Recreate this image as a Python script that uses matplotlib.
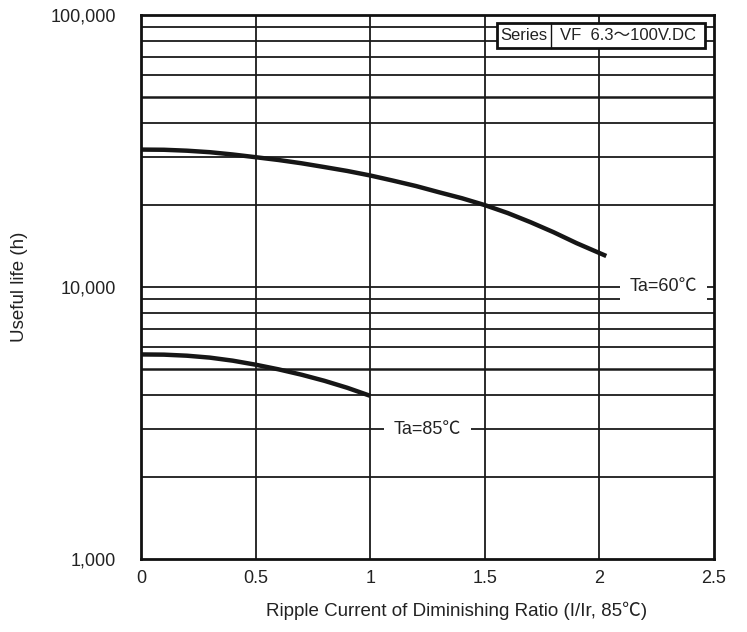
import numpy as np
import matplotlib.pyplot as plt
from matplotlib.patches import Rectangle

plt.rcParams['font.family'] = ['Liberation Sans', 'Noto Sans CJK JP', 'DejaVu Sans']

# ripple current ratio vs. useful life, per ambient temperature
ratio_60 = [0.0, 0.1, 0.2, 0.3, 0.4, 0.5, 0.6, 0.7, 0.8, 0.9, 1.0,
            1.1, 1.2, 1.3, 1.4, 1.5, 1.6, 1.7, 1.8, 1.9, 2.03]
life_60 = [32000, 31950, 31700, 31300, 30700, 30000, 29300, 28500, 27600,
           26700, 25700, 24600, 23500, 22300, 21200, 20000, 18700, 17300,
           15900, 14500, 13000]

ratio_85 = [0.0, 0.1, 0.2, 0.3, 0.4, 0.5, 0.6, 0.7, 0.8, 0.9, 1.0]
life_85 = [5650, 5640, 5590, 5500, 5360, 5180, 4980, 4760, 4520, 4260, 3980]

x_ticks = [0, 0.5, 1, 1.5, 2, 2.5]
x_tick_labels = ['0', '0.5', '1', '1.5', '2', '2.5']
y_ticks = [1000, 10000, 100000]
y_tick_labels = ['1,000', '10,000', '100,000']
grid_levels = [2000, 3000, 4000, 5000, 6000, 7000, 8000, 9000, 10000,
               20000, 30000, 40000, 50000, 60000, 70000, 80000, 90000]

fig = plt.figure(figsize=(7.47, 6.32), dpi=100)
ax = fig.add_axes([0.1888, 0.1155, 0.767, 0.8608])

ax.set_yscale('log')
ax.set_xlim(0, 2.5)
ax.set_ylim(1000, 100000)

# grid
for v in [0.5, 1, 1.5, 2]:
    ax.axvline(v, color='#1a1a1a', lw=1.3, zorder=1)
for g in grid_levels:
    w = 1.8 if g in (5000, 50000) else 1.3
    ax.axhline(g, color='#1a1a1a', lw=w, zorder=1)

ax.plot(ratio_60, life_60, color='#161616', lw=3.2, zorder=3,
        solid_capstyle='butt', solid_joinstyle='round')
ax.plot(ratio_85, life_85, color='#161616', lw=3.2, zorder=3,
        solid_capstyle='butt', solid_joinstyle='round')

box = dict(facecolor='white', edgecolor='none', pad=7)
ax.text(2.28, 10000, 'Ta=60℃', ha='center', va='center', fontsize=13,
        color='#222222', bbox=box, zorder=4)
ax.text(1.25, 3000, 'Ta=85℃', ha='center', va='center', fontsize=13,
        color='#222222', bbox=box, zorder=4)

# series box in the top-right corner
x0, x1, y0, y1, xd = 0.621, 0.984, 0.939, 0.985, 0.7155
ax.add_patch(Rectangle((x0, y0), x1 - x0, y1 - y0, transform=ax.transAxes,
                       facecolor='white', edgecolor='#111111', lw=2, zorder=5))
ax.plot([xd, xd], [y0, y1], transform=ax.transAxes, color='#111111',
        lw=1, zorder=6)
ax.text((x0 + xd) / 2, (y0 + y1) / 2, 'Series', transform=ax.transAxes,
        ha='center', va='center', fontsize=12, color='#222222', zorder=6)
ax.text((xd + x1) / 2, (y0 + y1) / 2, 'VF  6.3～100V.DC',
        transform=ax.transAxes, ha='center', va='center', fontsize=12,
        color='#222222', zorder=6)

ax.set_xticks(x_ticks)
ax.set_xticklabels(x_tick_labels)
ax.set_yticks(y_ticks)
ax.set_yticklabels(y_tick_labels)
ax.yaxis.set_minor_locator(plt.NullLocator())
ax.tick_params(axis='both', length=0, labelsize=13, colors='#222222')
ax.tick_params(axis='x', pad=8)
ax.tick_params(axis='y', pad=18)

for s in ax.spines.values():
    s.set_linewidth(2)
    s.set_color('#111111')
    s.set_zorder(6)

ax.set_xlabel('Ripple Current of Diminishing Ratio (I/Ir, 85℃)',
              fontsize=13.5, color='#222222')
ax.xaxis.set_label_coords(0.55, -0.078)
ax.set_ylabel('Useful life (h)', fontsize=13.5, color='#222222', labelpad=16)

fig.savefig('out.png', dpi=100)
